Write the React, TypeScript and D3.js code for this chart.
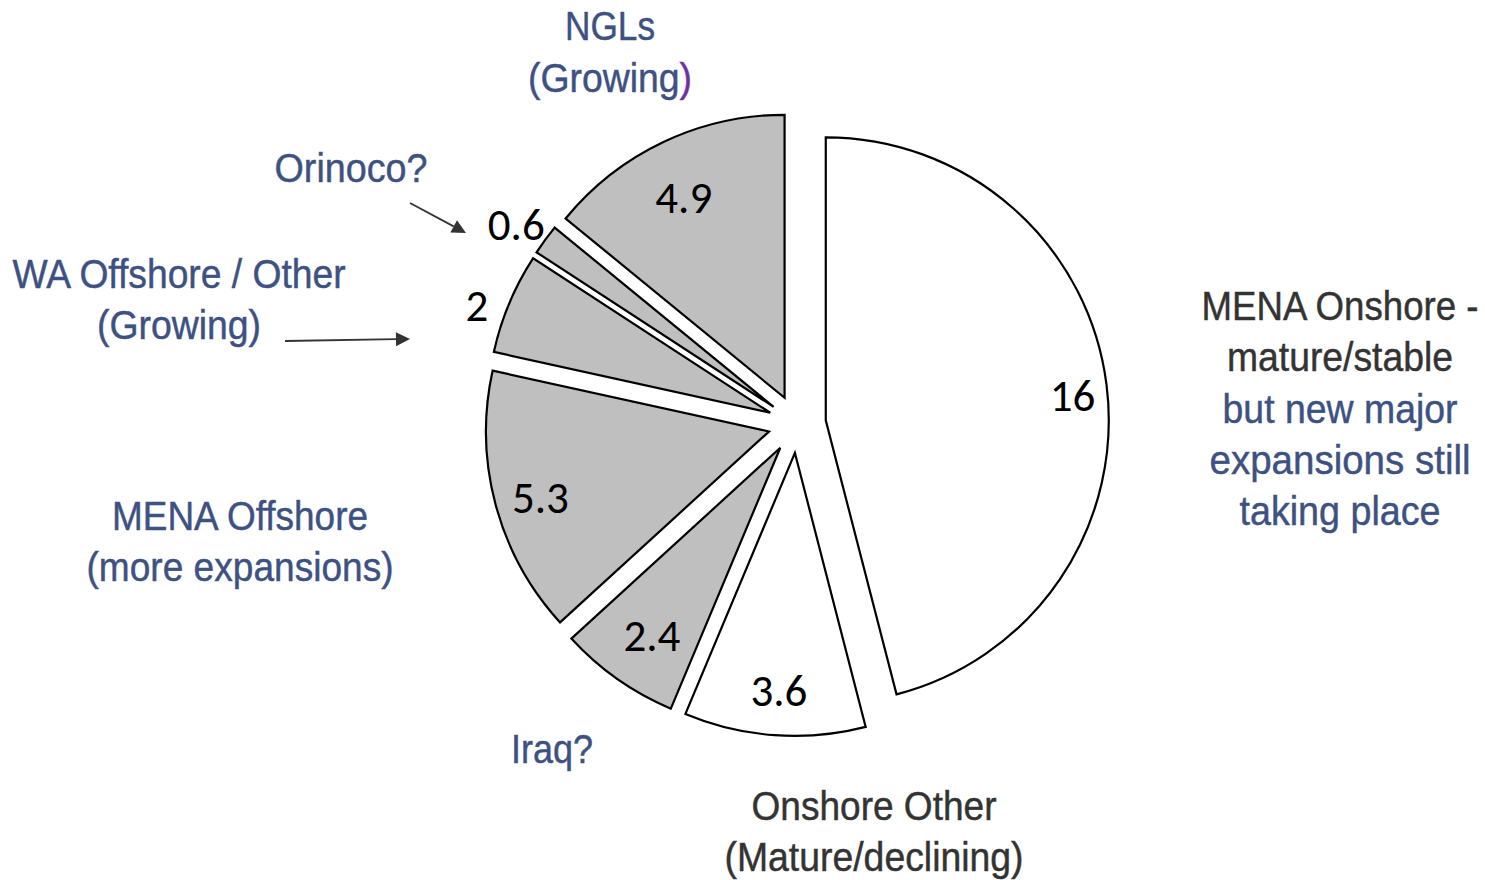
import React, { useLayoutEffect, useRef, useState } from "react";
import * as d3 from "d3";

const categories = ["MENA Onshore", "Onshore Other", "Iraq", "MENA Offshore", "WA Offshore / Other", "Orinoco", "NGLs"];
const values = [16, 3.6, 2.4, 5.3, 2, 0.6, 4.9];
const valueLabels = ["16", "3.6", "2.4", "5.3", "2", "0.6", "4.9"];
const fills = ["#ffffff", "#ffffff", "#bfbfbf", "#bfbfbf", "#bfbfbf", "#bfbfbf", "#bfbfbf"];

// layout of the data labels (distance from slice tip, small angular nudge in degrees)
const labelRadius = [248, 239, 228, 238, 312, 315, 224];
const labelShift = [1.6, -0.3, -0.9, -1.2, -2.8, -1.0, -1.4];

const W = 1485;
const H = 880;
const CX = 797;
const CY = 424;
const R = 283;
const EXPLODE = 29;

const BLUE = "#3d5182";
const GRAY = "#333333";
const PURPLE = "#7030a0";
const LABEL_FONT = "'Liberation Sans Narrow', 'Arial Narrow', 'Liberation Sans', Arial, sans-serif";
const NUM_FONT = "Carlito, Calibri, Lato, 'Open Sans', sans-serif";

type Line = { text: string; color: string; w: number; tail?: { text: string; color: string } };
type Block = { x: number; y: number; gap: number; lines: Line[] };

const annotations: Block[] = [
  {
    x: 610,
    y: 40,
    gap: 52,
    lines: [
      { text: "NGLs", color: BLUE, w: 90 },
      { text: "(Growing", color: BLUE, w: 164, tail: { text: ")", color: PURPLE } },
    ],
  },
  { x: 351, y: 182, gap: 52, lines: [{ text: "Orinoco?", color: BLUE, w: 153 }] },
  {
    x: 179,
    y: 288,
    gap: 51,
    lines: [
      { text: "WA Offshore / Other", color: BLUE, w: 333 },
      { text: "(Growing)", color: BLUE, w: 164 },
    ],
  },
  {
    x: 240,
    y: 530,
    gap: 51,
    lines: [
      { text: "MENA Offshore", color: BLUE, w: 256 },
      { text: "(more expansions)", color: BLUE, w: 307 },
    ],
  },
  { x: 552, y: 763, gap: 52, lines: [{ text: "Iraq?", color: BLUE, w: 82 }] },
  {
    x: 874,
    y: 820,
    gap: 51,
    lines: [
      { text: "Onshore Other", color: GRAY, w: 245 },
      { text: "(Mature/declining)", color: GRAY, w: 299 },
    ],
  },
  {
    x: 1340,
    y: 320,
    gap: 51.3,
    lines: [
      { text: "MENA Onshore -", color: GRAY, w: 277 },
      { text: "mature/stable", color: GRAY, w: 226 },
      { text: "but new major", color: BLUE, w: 235 },
      { text: "expansions still", color: BLUE, w: 261 },
      { text: "taking place", color: BLUE, w: 201 },
    ],
  },
];

const arrows = [
  { x1: 410, y1: 203, x2: 466, y2: 233 },
  { x1: 285, y1: 341, x2: 410, y2: 339 },
];

function NarrowText({ line, cx, y }: { line: Line; cx: number; y: number }) {
  const ref = useRef<SVGTextElement>(null);
  const [sx, setSx] = useState(0.85);
  useLayoutEffect(() => {
    if (ref.current) {
      const natural = ref.current.getComputedTextLength();
      if (natural > 0) setSx(line.w / natural);
    }
  }, [line.w, line.text]);
  return (
    <text
      ref={ref}
      transform={`translate(${cx - line.w / 2},${y}) scale(${sx},1)`}
      x={0}
      y={0}
      fill={line.color}
      stroke={line.color}
      strokeWidth={0.45}
      fontFamily={LABEL_FONT}
      fontSize={41}
    >
      {line.text}
      {line.tail ? (
        <tspan fill={line.tail.color} stroke={line.tail.color}>
          {line.tail.text}
        </tspan>
      ) : null}
    </text>
  );
}

export default function App() {
  const pie = d3
    .pie<number>()
    .sort(null)
    .value((d) => d)
    .startAngle(0)
    .endAngle(2 * Math.PI);
  const arcs = pie(values);
  const arcGen = d3.arc<d3.PieArcDatum<number>>().innerRadius(0).outerRadius(R);

  return (
    <svg width={W} height={H} style={{ position: "absolute", left: 0, top: 0, background: "#fff" }}>
      <defs>
        <marker id="ah" viewBox="0 0 10 10" refX="10" refY="5" markerWidth="16" markerHeight="14" orient="auto" markerUnits="userSpaceOnUse">
          <path d="M0,0 L10,5 L0,10 z" fill="#333" />
        </marker>
      </defs>
      <rect x={0} y={0} width={W} height={H} fill="#fff" />
      <g transform={`translate(${CX},${CY})`}>
        {arcs.map((a, i) => {
          const mid = (a.startAngle + a.endAngle) / 2;
          const ox = Math.sin(mid) * EXPLODE;
          const oy = -Math.cos(mid) * EXPLODE;
          const la = mid + (labelShift[i] * Math.PI) / 180;
          const lx = ox + Math.sin(la) * labelRadius[i];
          const ly = oy - Math.cos(la) * labelRadius[i];
          return (
            <g key={categories[i]}>
              <path
                d={arcGen(a) || ""}
                transform={`translate(${ox},${oy})`}
                fill={fills[i]}
                stroke="#000"
                strokeWidth={2.2}
                strokeLinejoin="miter"
              />
              <text x={lx} y={ly} dy="0.33em" textAnchor="middle" fontFamily={NUM_FONT} fontSize={45} fill="#000">
                {valueLabels[i]}
              </text>
            </g>
          );
        })}
      </g>
      {arrows.map((ar, i) => {
        const len = Math.hypot(ar.x2 - ar.x1, ar.y2 - ar.y1);
        const k = (len - 14) / len;
        return (
          <g key={i}>
            <line x1={ar.x1} y1={ar.y1} x2={ar.x1 + (ar.x2 - ar.x1) * k} y2={ar.y1 + (ar.y2 - ar.y1) * k} stroke="#333" strokeWidth={1.8} />
            <line x1={ar.x1} y1={ar.y1} x2={ar.x2} y2={ar.y2} stroke="none" markerEnd="url(#ah)" />
          </g>
        );
      })}
      {annotations.map((b, bi) => (
        <g key={bi}>
          {b.lines.map((l, li) => (
            <NarrowText key={li} line={l} cx={b.x} y={b.y + li * b.gap} />
          ))}
        </g>
      ))}
    </svg>
  );
}
